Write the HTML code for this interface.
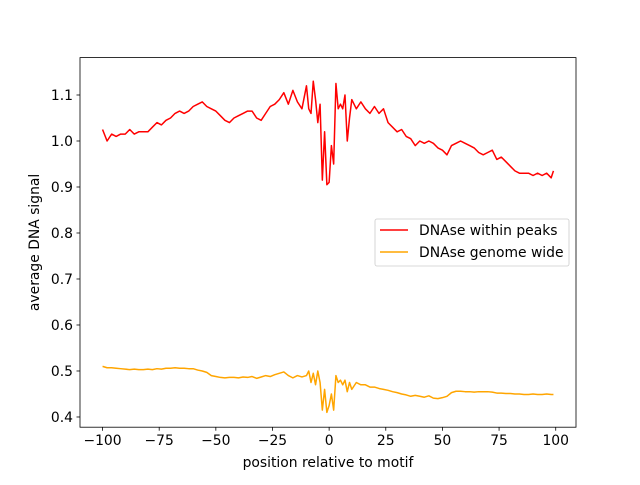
<!DOCTYPE html>
<html><head><meta charset="utf-8"><style>
body{margin:0;background:#fff}
text{font-family:"DejaVu Sans","Liberation Sans",sans-serif;font-size:13.9px;fill:#000}
</style></head><body>
<svg id="chart" width="640" height="480" xmlns="http://www.w3.org/2000/svg">
<rect width="640" height="480" fill="#fff"/>
<g id="plot"></g>
</svg>
<script>
const xRed = [-100,-98,-96,-94,-92,-90,-88,-86,-84,-82,-80,-78,-76,-74,-72,-70,-68,-66,-64,-62,-60,-58,-56,-54,-52,-50,-48,-46,-44,-42,-40,-38,-36,-34,-32,-30,-28,-26,-24,-22,-20,-18,-16,-14,-12,-10,-9,-8,-7,-6,-5,-4,-3,-2,-1,0,1,2,3,4,5,6,7,8,9,10,12,14,16,18,20,22,24,26,28,30,32,34,36,38,40,42,44,46,48,50,52,54,56,58,60,62,64,66,68,70,72,74,76,78,80,82,84,86,88,90,92,94,96,98,99];
const redVals = [1.025,1.0,1.015,1.01,1.015,1.015,1.025,1.015,1.02,1.02,1.02,1.03,1.04,1.035,1.045,1.05,1.06,1.065,1.06,1.065,1.075,1.08,1.085,1.075,1.07,1.065,1.055,1.045,1.04,1.05,1.055,1.06,1.065,1.065,1.05,1.045,1.06,1.075,1.08,1.09,1.105,1.08,1.11,1.085,1.07,1.12,1.07,1.06,1.13,1.09,1.04,1.08,0.915,1.02,0.905,0.91,0.99,0.95,1.125,1.07,1.08,1.07,1.10,1.00,1.05,1.09,1.07,1.085,1.07,1.06,1.075,1.06,1.07,1.04,1.03,1.02,1.025,1.01,1.005,0.99,1.0,0.995,1.0,0.995,0.985,0.98,0.97,0.99,0.995,1.0,0.995,0.99,0.985,0.975,0.97,0.975,0.98,0.96,0.965,0.955,0.945,0.935,0.93,0.93,0.93,0.925,0.93,0.925,0.93,0.92,0.935];
const yellowVals = [0.51,0.507,0.507,0.506,0.505,0.504,0.503,0.504,0.503,0.503,0.504,0.503,0.505,0.504,0.506,0.506,0.507,0.506,0.506,0.505,0.505,0.502,0.5,0.497,0.49,0.488,0.486,0.485,0.486,0.486,0.485,0.487,0.486,0.488,0.484,0.487,0.49,0.488,0.492,0.495,0.498,0.49,0.485,0.49,0.487,0.49,0.50,0.475,0.495,0.47,0.50,0.475,0.415,0.46,0.41,0.425,0.45,0.415,0.49,0.475,0.48,0.47,0.48,0.455,0.475,0.46,0.475,0.47,0.47,0.465,0.465,0.462,0.46,0.458,0.455,0.453,0.45,0.448,0.445,0.447,0.445,0.443,0.446,0.441,0.44,0.442,0.445,0.453,0.456,0.456,0.455,0.455,0.454,0.455,0.455,0.455,0.454,0.452,0.452,0.451,0.451,0.45,0.45,0.449,0.449,0.45,0.449,0.449,0.45,0.449,0.449];
const xTicks = [-100,-75,-50,-25,0,25,50,75,100];
const yTicks = [0.4,0.5,0.6,0.7,0.8,0.9,1.0,1.1];
const yTickLabels = ["0.4","0.5","0.6","0.7","0.8","0.9","1.0","1.1"];

const L=80,R=576,T=57.6,B=427.2;
const xMin=-109.95,xMax=108.95,yMin=0.3778,yMax=1.1813;
const sx=v=>L+(v-xMin)/(xMax-xMin)*(R-L);
const sy=v=>B-(v-yMin)/(yMax-yMin)*(B-T);
const NS="http://www.w3.org/2000/svg";
const g=document.getElementById('plot');
function mk(t,a){const e=document.createElementNS(NS,t);for(const k in a)e.setAttribute(k,a[k]);g.appendChild(e);return e;}

function line(xs,ys,color,name){
  const p=mk('polyline',{points:xs.map((x,i)=>sx(x).toFixed(2)+','+sy(ys[i]).toFixed(2)).join(' '),fill:'none',stroke:color,'stroke-width':1.5,'stroke-linejoin':'round'});
  
  
}
line(xRed,redVals,'#ff0000','series-dnase-within-peaks');
line(xRed,yellowVals,'#ffa500','series-dnase-genome-wide');

const frame=mk('rect',{x:L,y:T,width:R-L,height:B-T,fill:'none',stroke:'#000','stroke-width':0.8});



xTicks.forEach(v=>{
  const x=sx(v);
  const t=mk('line',{x1:x,x2:x,y1:B,y2:B+3.5,stroke:'#000','stroke-width':0.8});
  
  
  const l=mk('text',{x:x,y:B+18,'text-anchor':'middle'});l.textContent=String(v).replace('-','\u2212');
  
  
});
yTicks.forEach((v,i)=>{
  const y=sy(v);
  const t=mk('line',{x1:L-3.5,x2:L,y1:y,y2:y,stroke:'#000','stroke-width':0.8});
  
  
  const l=mk('text',{x:L-7,y:y+5,'text-anchor':'end'});l.textContent=yTickLabels[i];
  
  
});
const xt=mk('text',{x:(L+R)/2,y:467,'text-anchor':'middle'});xt.textContent='position relative to motif';


const yt=mk('text',{x:39,y:(T+B)/2,'text-anchor':'middle',transform:'rotate(-90 39 '+((T+B)/2)+')'});yt.textContent='average DNA signal';



const lg=mk('rect',{x:375,y:219,width:194,height:47,rx:2,fill:'#fff','fill-opacity':0.8,stroke:'#ccc','stroke-width':0.8});


[['DNAse within peaks','#ff0000',230],['DNAse genome wide','#ffa500',252]].forEach(([n,c,y])=>{
  const s=mk('line',{x1:380,x2:408,y1:y,y2:y,stroke:c,'stroke-width':1.5});
  
  
  const t=mk('text',{x:419,y:y+5});t.textContent=n;
  
  
});
</script>
</body></html>
